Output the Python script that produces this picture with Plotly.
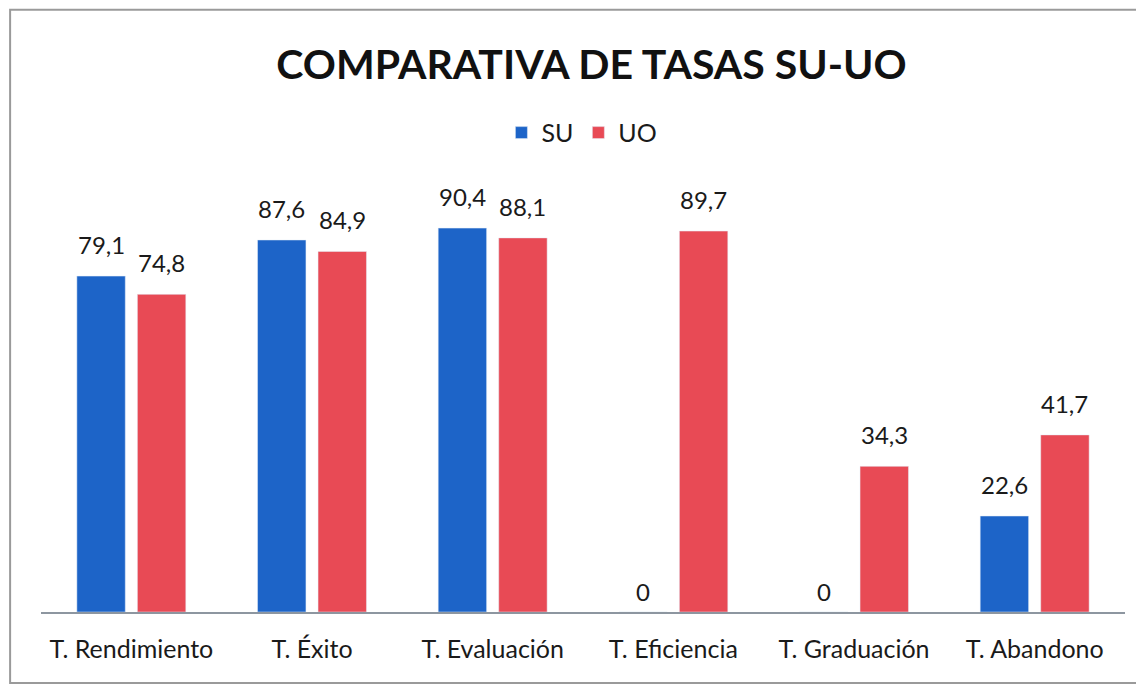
import plotly.graph_objects as go

categories = ["T. Rendimiento", "T. Éxito", "T. Evaluación", "T. Eficiencia", "T. Graduación", "T. Abandono"]
su_values = [79.1, 87.6, 90.4, 0, 0, 22.6]
uo_values = [74.8, 84.9, 88.1, 89.7, 34.3, 41.7]

def fmt(v):
    return "0" if v == 0 else ("%.1f" % v).replace(".", ",")

BARGAP = 0.33
fig = go.Figure()
fig.add_trace(go.Bar(name="SU", x=categories, y=su_values, marker_color="#1d64c8"))
fig.add_trace(go.Bar(name="UO", x=categories, y=uo_values, marker_color="#e84a55"))

# value labels above each bar (positions derived from category index and group layout)
slot = (1 - BARGAP) / 2
annotations = []
for i, (s, u) in enumerate(zip(su_values, uo_values)):
    for off, v in ((-slot / 2, s), (slot / 2, u)):
        annotations.append(dict(x=i + off, y=v, xref="x", yref="y", text=fmt(v),
                                showarrow=False, yanchor="bottom",
                                yshift=4 if v == 0 else 15,
                                font=dict(size=24, color="#1a1a1a")))

fig.update_layout(
    width=1144, height=688,
    paper_bgcolor="white", plot_bgcolor="white",
    font=dict(family="Lato, Open Sans, sans-serif", color="#1a1a1a"),
    title=dict(text="<b>COMPARATIVA DE TASAS SU-UO</b>", x=0.51, xanchor="center",
               y=0.917, yanchor="middle", font=dict(size=41, color="#111111")),
    legend=dict(orientation="h", x=0.499, xanchor="center", y=1.149, yanchor="middle",
                font=dict(size=25, color="#1a1a1a"), itemwidth=30, traceorder="normal"),
    margin=dict(l=33, r=27, t=187, b=84),
    bargap=BARGAP, bargroupgap=0.2,
    xaxis=dict(showline=True, linecolor="#8d96a0", linewidth=2, ticks="",
               tickfont=dict(size=25, color="#1a1a1a"), showgrid=False, ticklabelstandoff=14),
    yaxis=dict(range=[0, 98.2], visible=False, showgrid=False, zeroline=False),
    annotations=annotations,
    shapes=[dict(type="rect", xref="paper", yref="paper", x0=-0.0285, x1=1.2, y0=-0.170, y1=1.444,
                 line=dict(color="#9a9a9a", width=2), layer="below")],
)

fig.write_html("out.html")
